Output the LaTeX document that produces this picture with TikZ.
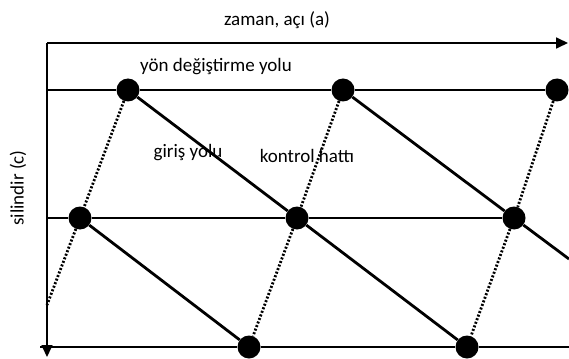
\documentclass[tikz,border=0pt]{standalone}
\usepackage{fontspec}
\setmainfont{Carlito}
\usetikzlibrary{arrows.meta}
\tikzset{
dot/.style={circle, fill=black, inner sep=0pt, minimum size=23pt},
axis/.style={line width=1.7pt},
path/.style={line width=2.8pt},
ctrl/.style={line width=2.8pt, dash pattern=on 2pt off 1.8pt},
lbl/.style={font=\fontsize{19}{22}\selectfont, text=black, inner sep=0pt}
}
\begin{document}
\begin{tikzpicture}[x=1pt, y=-1pt]
\useasboundingbox (0,0) rectangle (569,358);
\coordinate (O) at (47,43);
\coordinate (xend) at (568,43);
\coordinate (yend) at (47,357);
\coordinate (l1) at (47,90);
\coordinate (l2) at (47,218);
\coordinate (l3) at (40,347);
\coordinate (r3) at (569,347);
\coordinate (rd) at (569,259);
\coordinate (ld) at (47,305);

\node[dot] (t1) at (128,90) {};
\node[dot] (t2) at (343,90) {};
\node[dot] (t3) at (557,90) {};
\node[dot] (m1) at (80,218) {};
\node[dot] (m2) at (297,218) {};
\node[dot] (m3) at (514,218) {};
\node[dot] (b1) at (249,347) {};
\node[dot] (b2) at (467,347) {};

\draw[axis, -{Triangle[length=12pt,width=11pt]}] (O) -- (xend);
\draw[axis, -{Triangle[length=12pt,width=11pt]}] (O) -- (yend);

\draw[path] (l1) -- (t1) -- (t2) -- (t3);
\draw[path] (l2) -- (m1) -- (m2) -- (m3);
\draw[path] (l3) -- (b1) -- (b2) -- (r3);

\draw[path] (t1) -- (m2) -- (b2);
\draw[path] (m1) -- (b1);
\draw[path] (t2) -- (m3) -- (rd);

\draw[ctrl] (t1) -- (m1) -- (ld);
\draw[ctrl] (t2) -- (m2) -- (b1);
\draw[ctrl] (t3) -- (m3) -- (b2);

\node[lbl] (time) at (277,20) {zaman, açı (a)};
\node[lbl] (turn) at (216,67) {yön değiştirme yolu};
\node[lbl] (entry) at (188,153) {giriş yolu};
\node[lbl] (check) at (307,156) {kontrol hattı};
\node[lbl, rotate=90] (cyl) at (18,188) {silindir (c)};
\end{tikzpicture}
\end{document}
